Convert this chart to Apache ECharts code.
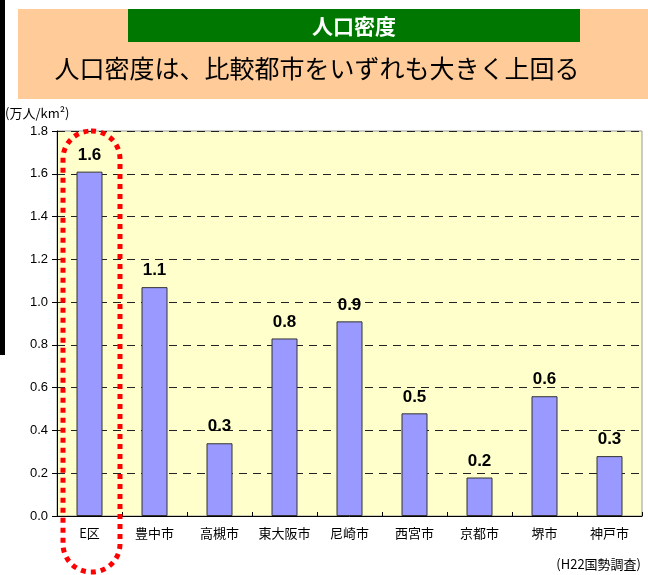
<!DOCTYPE html>
<html>
<head>
<meta charset="utf-8">
<script src="https://cdn.jsdelivr.net/npm/echarts@6/dist/echarts.min.js"></script>
<style>
html,body{margin:0;padding:0;background:#fff;}
#c{width:648px;height:575px;}
</style>
</head>
<body>
<div id="c"></div>
<script>
const categories = ['E区','豊中市','高槻市','東大阪市','尼崎市','西宮市','京都市','堺市','神戸市'];
const density = [1.61, 1.07, 0.34, 0.83, 0.91, 0.48, 0.18, 0.56, 0.28];
const densityLabels = ['1.6','1.1','0.3','0.8','0.9','0.5','0.2','0.6','0.3'];
const yTicks = { min: 0, max: 1.8, interval: 0.2 };
const headline = '人口密度';
const subtitle = '人口密度は、比較都市をいずれも大きく上回る';
const unitText = '(万人/km²)';
const sourceText = '(H22国勢調査)';

const chart = echarts.init(document.getElementById('c'), null, {renderer:'canvas'});
const jp = '"Noto Sans CJK JP", "Noto Sans", sans-serif';
const num = '"Liberation Sans", Arial, sans-serif';

chart.setOption({
  animation: false,
  backgroundColor: '#fff',
  grid: { left: 57, right: 6, top: 131, bottom: 59, show: true, backgroundColor: '#FFFFCC', borderColor: '#999', borderWidth: 1 },
  xAxis: {
    type: 'category',
    data: categories,
    axisLine: { lineStyle: { color: '#000', width: 1 } },
    axisTick: { show: true, inside: true, length: 4, lineStyle: { color: '#000' } },
    axisLabel: { color: '#000', fontSize: 13, fontFamily: jp, margin: 11, interval: 0 }
  },
  yAxis: {
    type: 'value',
    min: yTicks.min, max: yTicks.max, interval: yTicks.interval,
    axisLine: { show: true, lineStyle: { color: '#000', width: 1 } },
    axisTick: { show: true, length: 5, lineStyle: { color: '#000' } },
    axisLabel: { color: '#000', fontSize: 13, fontFamily: num, margin: 9, formatter: v => v.toFixed(1) },
    splitLine: { show: true, lineStyle: { color: '#222', type: [8, 6], width: 1 } }
  },
  series: [{
    type: 'bar',
    data: density,
    barWidth: '40%',
    itemStyle: { color: '#9999FF', borderColor: '#333', borderWidth: 1 },
    label: {
      show: true, position: 'top', distance: 8,
      formatter: p => densityLabels[p.dataIndex],
      color: '#000', fontSize: 17, fontWeight: 'bold', fontFamily: num
    }
  }],
  graphic: [
    { type: 'rect', shape: { x: 0, y: 0, width: 5, height: 355 }, style: { fill: '#000' } },
    { type: 'rect', shape: { x: 18, y: 9, width: 630, height: 90 }, style: { fill: '#FFCC99' } },
    { type: 'rect', shape: { x: 128, y: 9, width: 452, height: 33 }, style: { fill: '#007700' } },
    { type: 'text', x: 354, y: 26, style: { text: headline, fill: '#fff', font: 'bold 21px ' + jp, align: 'center', verticalAlign: 'middle' } },
    { type: 'text', x: 317, y: 68, style: { text: subtitle, fill: '#000', font: '25px ' + jp, align: 'center', verticalAlign: 'middle' } },
    { type: 'text', x: 5, y: 113, style: { text: unitText, fill: '#000', font: '13px ' + jp, align: 'left', verticalAlign: 'middle' } },
    { type: 'text', x: 641, y: 564, style: { text: sourceText, fill: '#000', font: '13px ' + jp, align: 'right', verticalAlign: 'middle' } },
    { type: 'rect', z: 100, shape: { x: 63, y: 131, width: 57, height: 441, r: 28 },
      style: { fill: 'none', stroke: '#FF0000', lineWidth: 5, lineDash: [5, 5] } }
  ]
});
</script>
</body>
</html>
